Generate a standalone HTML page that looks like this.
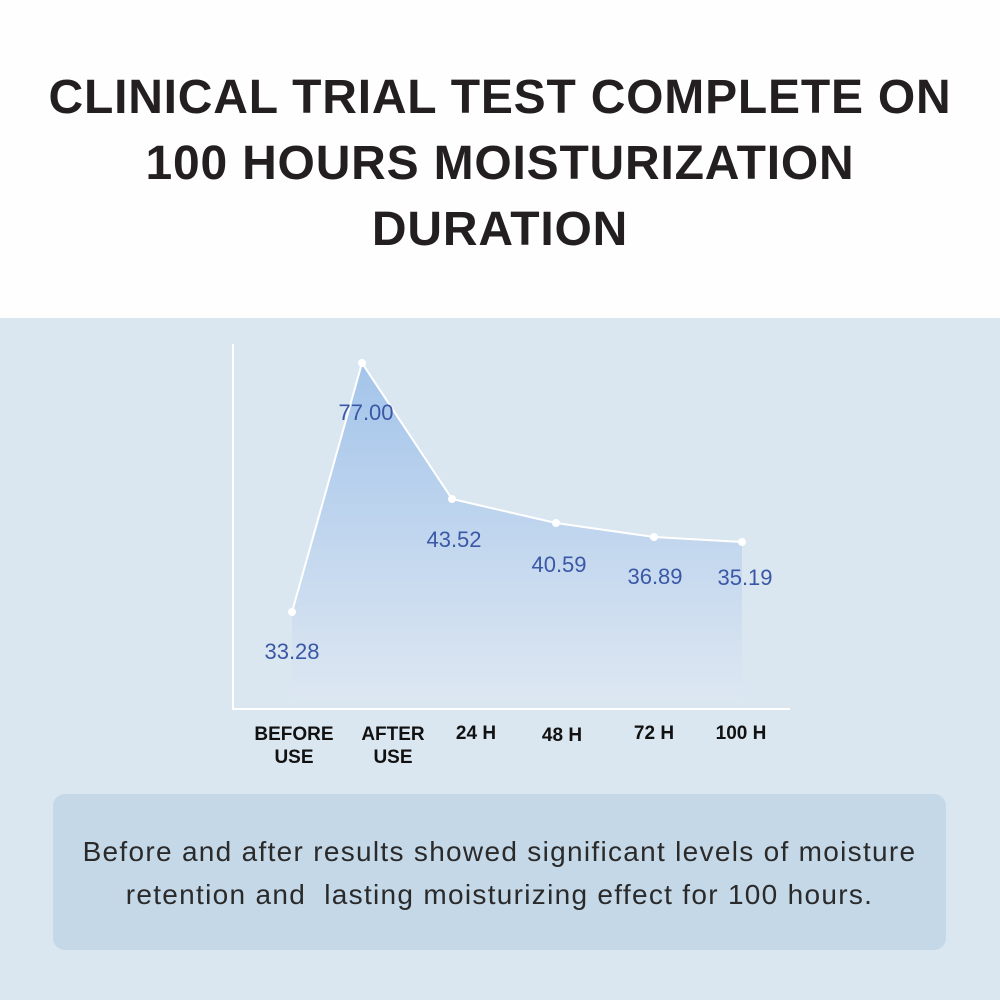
<!DOCTYPE html>
<html><head><style>
body{margin:0;width:1000px;height:1000px;overflow:hidden;font-family:"Liberation Sans",sans-serif;background:#fff}
.top{position:absolute;left:0;top:0;width:1000px;height:318px;background:#fefefe}
.title{position:absolute;left:0;width:1000px;text-align:center;font-weight:bold;font-size:48px;color:#231f20;line-height:66px;top:65px;letter-spacing:0.8px}
.bot{position:absolute;left:0;top:318px;width:1000px;height:682px;background:#dae6f0}
.card{position:absolute;left:53px;top:794px;width:893px;height:156px;background:#c5d8e8;border-radius:12px}
.card p{margin:0;position:absolute;top:36px;width:100%;text-align:center;font-size:28px;line-height:43px;color:#2a2a2a;letter-spacing:1.3px}
svg{position:absolute;left:0;top:0}
</style></head><body>
<div class="top"></div>
<div class="title">CLINICAL TRIAL TEST COMPLETE ON<br>100 HOURS MOISTURIZATION<br>DURATION</div>
<div class="bot"></div>
<svg width="1000" height="1000">
<defs><linearGradient id="g" x1="0" y1="0" x2="0" y2="1">
<stop offset="0" stop-color="#a3c4ea"/><stop offset="1" stop-color="#dde7f2"/></linearGradient></defs>
<polygon points="292,612 362,363 452,499 556,523 654,537 742,542 742,700 292,700" fill="url(#g)"/>
<polyline points="292,612 362,363 452,499 556,523 654,537 742,542" fill="none" stroke="#fff" stroke-width="2"/>
<g fill="#fff"><circle cx="292" cy="612" r="4"/><circle cx="362" cy="363" r="4"/><circle cx="452" cy="499" r="4"/><circle cx="556" cy="523" r="4"/><circle cx="654" cy="537" r="4"/><circle cx="742" cy="542" r="4"/></g>
<line x1="233" y1="344" x2="233" y2="709" stroke="#fff" stroke-width="2"/>
<line x1="232" y1="709" x2="790" y2="709" stroke="#fff" stroke-width="2"/>
<g font-size="22" fill="#3a58a6" text-anchor="middle" font-family="Liberation Sans">
<text x="292" y="659">33.28</text><text x="366" y="420">77.00</text><text x="454" y="547">43.52</text>
<text x="559" y="572">40.59</text><text x="655" y="584">36.89</text><text x="745" y="585">35.19</text></g>
<g font-size="19" font-weight="bold" fill="#111" text-anchor="middle" font-family="Liberation Sans">
<text x="294" y="740">BEFORE</text><text x="294" y="763">USE</text>
<text x="393" y="740">AFTER</text><text x="393" y="763">USE</text>
<text x="476" y="739">24 H</text><text x="562" y="741">48 H</text><text x="654" y="739">72 H</text><text x="741" y="739">100 H</text></g>
</svg>
<div class="card"><p>Before and after results showed significant levels of moisture<br>retention and &nbsp;lasting moisturizing effect for 100 hours.</p></div>
</body></html>
